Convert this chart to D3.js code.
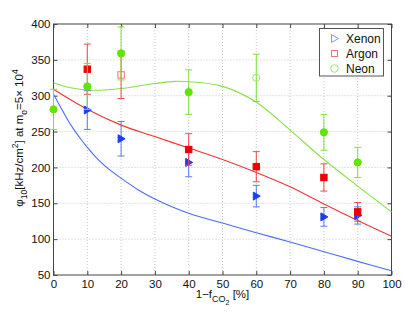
<!DOCTYPE html>
<html>
<head>
<meta charset="utf-8">
<script src="https://cdn.jsdelivr.net/npm/d3@7"></script>
<style>
  body { margin: 0; background: #fff; }
  svg { font-family: "Liberation Sans", Arial, sans-serif; }
  .grid line { stroke: #c8c8c8; stroke-dasharray: 1,2; }
</style>
</head>
<body>
<script>
// measured points (only neon is visible at 0 %)
var xenonX = [10, 20, 40, 60, 80, 90];
var xenonY = [280, 240, 207, 160, 131, 133];
var xenonErr = [27, 24, 20, 15, 13, 12];
var argonX = [10, 20, 40, 60, 80, 90];
var argonY = [337, 329, 225, 201, 186, 138];
var argonErr = [35, 33, 22, 21, 19, 13];
var argonOpen = [20];
var neonX = [0, 10, 20, 40, 60, 80, 90];
var neonY = [281, 313, 359, 305, 325, 249, 207];
var neonErr = [28, 32, 37, 31, 33, 25, 21];
var neonOpen = [60];

// fit curves
var xenonFitX = [0, 2, 4, 6, 8, 10, 13, 16, 20, 25, 30, 40, 50, 60, 70, 80, 90, 100];
var xenonFitY = [302, 285, 268, 253, 240, 228, 212, 199, 185, 169, 156, 136, 122.5, 109, 96, 82.5, 69, 56];
var argonFitX = [0, 10, 20, 30, 40, 50, 60, 70, 80, 90, 100];
var argonFitY = [309, 281, 259, 243, 227, 211, 193, 173, 149, 126, 104];
var neonFitX = [0, 5, 10, 15, 20, 30, 36, 40, 50, 60, 70, 80, 90, 100];
var neonFitY = [318, 311, 308, 308, 310, 317, 320, 319.5, 313, 291, 252, 211, 174, 138];

var xTicks = [0, 10, 20, 30, 40, 50, 60, 70, 80, 90, 100];
var yTicks = [50, 100, 150, 200, 250, 300, 350, 400];

var width = 409, height = 315;
var pLeft = 53.5, pRight = 391.5, pTop = 24, pBottom = 275;

var svg = d3.select("body").append("svg")
    .attr("width", width)
    .attr("height", height);

var x = d3.scaleLinear().domain([0, 100]).range([pLeft, pRight]);
var y = d3.scaleLinear().domain([50, 400]).range([pBottom, pTop]);

//grid
var grid = svg.append("g").attr("class", "grid");
grid.selectAll(".gx").data(xTicks.slice(1, -1)).enter().append("line")
    .attr("x1", d => x(d)).attr("x2", d => x(d))
    .attr("y1", pTop).attr("y2", pBottom);
grid.selectAll(".gy").data(yTicks.slice(1, -1)).enter().append("line")
    .attr("y1", d => y(d)).attr("y2", d => y(d))
    .attr("x1", pLeft).attr("x2", pRight);

//axes, ticks pointing inward like matlab
var axisColor = "#444";
function styleAxis(g){
    g.select(".domain").remove();
    g.selectAll(".tick line").attr("stroke", axisColor);
    g.selectAll(".tick text").attr("fill", "#111").attr("font-size", "11.5px");
}
svg.append("g").attr("transform", "translate(0," + pBottom + ")")
    .call(d3.axisBottom(x).tickValues(xTicks).tickSizeInner(-4).tickSizeOuter(0).tickPadding(5))
    .call(styleAxis);
svg.append("g").attr("transform", "translate(0," + pTop + ")")
    .call(d3.axisTop(x).tickValues(xTicks).tickSizeInner(-4).tickSizeOuter(0).tickFormat(""))
    .call(styleAxis);
svg.append("g").attr("transform", "translate(" + pLeft + ",0)")
    .call(d3.axisLeft(y).tickValues(yTicks).tickSizeInner(-4).tickSizeOuter(0).tickPadding(3))
    .call(styleAxis);
svg.append("g").attr("transform", "translate(" + pRight + ",0)")
    .call(d3.axisRight(y).tickValues(yTicks).tickSizeInner(-4).tickSizeOuter(0).tickFormat(""))
    .call(styleAxis);
svg.append("rect")
    .attr("x", pLeft).attr("y", pTop)
    .attr("width", pRight - pLeft).attr("height", pBottom - pTop)
    .attr("fill", "none").attr("stroke", axisColor).attr("stroke-width", 1);

var gases = [
    {name: "Xenon", xs: xenonX, ys: xenonY, err: xenonErr, open: [], fx: xenonFitX, fy: xenonFitY,
     mark: "#1a3cff", line: "#4b6cf5", bar: "#5a78ff", light: "#7f95ff", shape: "tri"},
    {name: "Argon", xs: argonX, ys: argonY, err: argonErr, open: argonOpen, fx: argonFitX, fy: argonFitY,
     mark: "#ee0000", line: "#f03434", bar: "#f04848", light: "#f47373", shape: "sq"},
    {name: "Neon", xs: neonX, ys: neonY, err: neonErr, open: neonOpen, fx: neonFitX, fy: neonFitY,
     mark: "#5fe600", line: "#8ae045", bar: "#7fe03a", light: "#9be870", shape: "circ"}
];

var line = d3.line().curve(d3.curveCatmullRom.alpha(0.5));

//fit lines
gases.forEach(function(g){
    svg.append("path")
        .datum(g.fx.map((v, i) => [x(v), y(g.fy[i])]))
        .attr("d", line)
        .attr("fill", "none")
        .attr("stroke", g.line)
        .attr("stroke-width", 1.1);
});

function drawMarker(sel, shape, cx, cy, fill, stroke){
    if (shape == "tri"){
        sel.append("path")
            .attr("d", "M" + (cx - 3) + "," + (cy - 4) + "L" + (cx + 4) + "," + cy + "L" + (cx - 3) + "," + (cy + 4) + "Z")
            .attr("fill", fill).attr("stroke", stroke).attr("stroke-width", 1);
    } else if (shape == "sq"){
        sel.append("rect")
            .attr("x", cx - 3.2).attr("y", cy - 3.2).attr("width", 6.4).attr("height", 6.4)
            .attr("fill", fill).attr("stroke", stroke).attr("stroke-width", 1);
    } else {
        sel.append("circle")
            .attr("cx", cx).attr("cy", cy).attr("r", 3.6)
            .attr("fill", fill).attr("stroke", stroke).attr("stroke-width", 1);
    }
}

//error bars and markers
gases.forEach(function(g){
    var grp = svg.append("g");
    g.xs.forEach(function(fx, i){
        var cx = x(fx), lo = y(g.ys[i] - g.err[i]), hi = y(g.ys[i] + g.err[i]);
        grp.append("line").attr("x1", cx).attr("x2", cx).attr("y1", lo).attr("y2", hi)
            .attr("stroke", g.bar).attr("stroke-width", 1);
        [lo, hi].forEach(function(yy){
            grp.append("line").attr("x1", cx - 3.5).attr("x2", cx + 3.5).attr("y1", yy).attr("y2", yy)
                .attr("stroke", g.bar).attr("stroke-width", 1);
        });
        if (g.open.indexOf(fx) >= 0){
            drawMarker(grp, g.shape, cx, y(g.ys[i]), "none", g.light);
        } else {
            drawMarker(grp, g.shape, cx, y(g.ys[i]), g.mark, g.mark);
        }
    });
});

//legend
var lg = svg.append("g");
lg.append("rect")
    .attr("x", 319.5).attr("y", 28.5).attr("width", 64).attr("height", 47.5)
    .attr("fill", "#fff").attr("stroke", "#555");
gases.forEach(function(g, i){
    var ly = 38.5 + i * 15;
    if (g.shape == "circ"){
        lg.append("circle").attr("cx", 334.5).attr("cy", ly).attr("r", 3.8)
            .attr("fill", "none").attr("stroke", g.light);
    } else if (g.shape == "sq"){
        lg.append("rect").attr("x", 331.5).attr("y", ly - 3).attr("width", 6).attr("height", 6)
            .attr("fill", "none").attr("stroke", g.light);
    } else {
        lg.append("path").attr("d", "M331.5," + (ly - 4) + "L338.5," + ly + "L331.5," + (ly + 4) + "Z")
            .attr("fill", "none").attr("stroke", g.light);
    }
    lg.append("text").attr("x", 346).attr("y", ly + 4.5)
        .attr("font-size", "12px").attr("fill", "#111").text(g.name);
});

//x label: 1-f_{CO_2} [%]
var xl = svg.append("text").attr("x", x(50)).attr("y", 298)
    .attr("text-anchor", "middle").attr("font-size", "11.5px").attr("fill", "#111");
xl.append("tspan").text("1\u2212f");
xl.append("tspan").attr("dy", 4).attr("font-size", "9px").text("CO");
xl.append("tspan").attr("dy", 3).attr("font-size", "7px").text("2");
xl.append("tspan").attr("dy", -7).text(" [%]");

//y label: phi_10 [kHz/cm^2] at m_o = 5x 10^4
var yl = svg.append("text")
    .attr("transform", "translate(23," + 138 + ") rotate(-90)")
    .attr("text-anchor", "middle").attr("font-size", "11.5px").attr("fill", "#111");
yl.append("tspan").text("\u03c6");
yl.append("tspan").attr("dy", 4).attr("font-size", "8.5px").text("10");
yl.append("tspan").attr("dy", -4).text("[kHz/cm");
yl.append("tspan").attr("dy", -5).attr("font-size", "8.5px").text("2");
yl.append("tspan").attr("dy", 5).text("] at m");
yl.append("tspan").attr("dy", 4).attr("font-size", "8.5px").text("o");
yl.append("tspan").attr("dy", -4).text("=5\u00d7 10");
yl.append("tspan").attr("dy", -5).attr("font-size", "8.5px").text("4");
</script>
</body>
</html>
